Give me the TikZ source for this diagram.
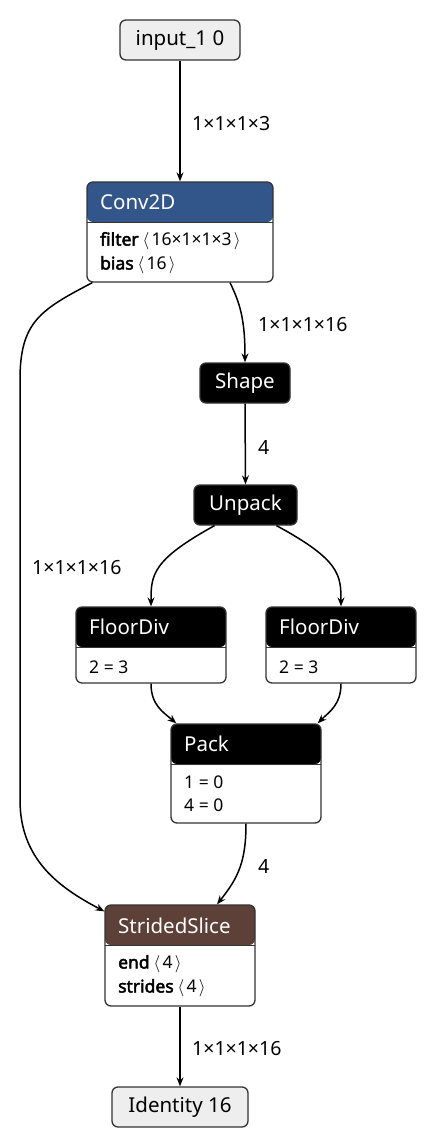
\documentclass[tikz,border=0pt]{standalone}
\usepackage{fontspec}
\setmainfont{Noto Sans}[BoldFont={Noto Sans},BoldFeatures={FakeBold=2.5}]
\usetikzlibrary{calc,arrows.meta}
\definecolor{bordc}{HTML}{333333}
\definecolor{convc}{HTML}{33568A}
\definecolor{slicec}{HTML}{5D4037}
\definecolor{ioc}{HTML}{EEEEEE}
\newcommand{\lang}{\hspace{4pt}$\left\langle\vphantom{1}\right.$\hspace{1pt}}
\newcommand{\rang}{\hspace{1pt}$\left.\vphantom{1}\right\rangle$}
\begin{document}
\begin{tikzpicture}[x=1pt,y=-1pt,
  box/.style={draw=bordc, line width=1.3pt, rounded corners=6pt, inner sep=0pt},
  iobox/.style={box, fill=ioc, text=black, font=\fontsize{20.5}{24}\selectfont},
  blackbox/.style={box, fill=black, text=white, font=\fontsize{20.5}{24}\selectfont},
  hdrbox/.style={box, fill=white, path picture={
      \fill[#1] (path picture bounding box.north west) rectangle ([yshift=-40pt]path picture bounding box.north east);
      \draw[bordc, line width=1pt] ([yshift=-40pt]path picture bounding box.north west) -- ([yshift=-40pt]path picture bounding box.north east);}},
  ttl/.style={anchor=west, inner sep=0pt, text=white, font=\fontsize{20.5}{24}\selectfont},
  attr/.style={anchor=west, inner sep=0pt, font=\fontsize{17.5}{20}\selectfont},
  elab/.style={anchor=west, inner sep=0pt, font=\fontsize{19.5}{22}\selectfont},
  edge/.style={line width=1.5pt, -{Stealth[length=9pt,width=7pt,inset=3pt]}},
]
\useasboundingbox (0,0) rectangle (436,1148);
% nodes
\node[iobox, minimum width=120pt, minimum height=40pt] (in) at (180,40) {input\_1 0};
\node[hdrbox=convc, minimum width=186pt, minimum height=100pt] (conv) at (180,232) {};
\node[ttl] (convt) at (100,202) {Conv2D};
\node[attr] (conva) at (100,241) {\textbf{filter}\lang16×1×1×3\rang};
\node[attr] (convb) at (100,265) {\textbf{bias}\lang16\rang};
\node[blackbox, minimum width=90pt, minimum height=40pt] (shape) at (245,383) {Shape};
\node[blackbox, minimum width=103pt, minimum height=40pt] (unpack) at (245.5,505) {Unpack};
\node[hdrbox=black, minimum width=150pt, minimum height=76pt] (fdl) at (151,645) {};
\node[ttl] (fdlt) at (89,627) {FloorDiv};
\node[attr] (fdla) at (89,667) {2 = 3};
\node[hdrbox=black, minimum width=150pt, minimum height=76pt] (fdr) at (341,645) {};
\node[ttl] (fdrt) at (279,627) {FloorDiv};
\node[attr] (fdra) at (279,667) {2 = 3};
\node[hdrbox=black, minimum width=150pt, minimum height=99pt] (pack) at (246,773.5) {};
\node[ttl] (packt) at (184,744) {Pack};
\node[attr] (packa) at (184,782) {1 = 0};
\node[attr] (packb) at (184,805) {4 = 0};
\node[hdrbox=slicec, minimum width=150pt, minimum height=101pt] (ss) at (180,955.5) {};
\node[ttl] (sst) at (118,925.5) {StridedSlice};
\node[attr] (ssa) at (118,964) {\textbf{end}\lang4\rang};
\node[attr] (ssb) at (118,988) {\textbf{strides}\lang4\rang};
\node[iobox, minimum width=136pt, minimum height=40pt] (id) at (180,1107) {Identity 16};
% edges
\draw[edge] (in.south) -- (conv.north);
\draw[edge] ($(conv.south)+(50,0)$) .. controls (241,305) and (245,322) .. (shape.north);
\draw[edge] (shape.south) -- (unpack.north);
\draw[edge] ($(unpack.south)+(-31,0)$) .. controls (152,560) and (151,575) .. (fdl.north);
\draw[edge] ($(unpack.south)+(31,0)$) .. controls (340,560) and (341,575) .. (fdr.north);
\draw[edge] (fdl.south) .. controls (151,705) and (163,712) .. ($(pack.north west)+(6,0)$);
\draw[edge] (fdr.south) .. controls (341,705) and (329,712) .. ($(pack.north east)+(-4,0)$);
\draw[edge] (pack.south) .. controls (246,862) and (238,878) .. ($(ss.north)+(37,0)$);
\draw[edge] ($(conv.south west)+(6,0)$) .. controls (40,310) and (20,322) .. (20,380) -- (20,800) .. controls (20,860) and (60,888) .. ($(ss.north west)+(0,7)$);
\draw[edge] (ss.south) -- (id.north);
% edge labels
\node[elab] (l1) at (192,124) {1×1×1×3};
\node[elab] (l2) at (258,325) {1×1×1×16};
\node[elab] (l3) at (258,447) {4};
\node[elab] (l4) at (32,568) {1×1×1×16};
\node[elab] (l5) at (258,866) {4};
\node[elab] (l6) at (192,1049) {1×1×1×16};
\end{tikzpicture}
\end{document}
